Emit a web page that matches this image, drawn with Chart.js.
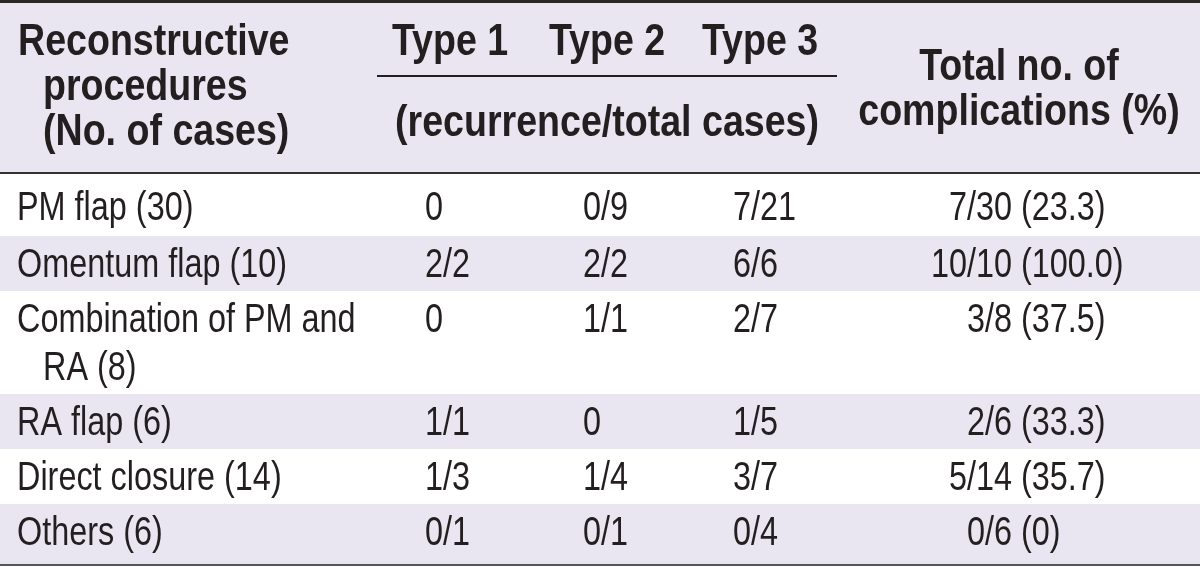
<!DOCTYPE html>
<html>
<head>
<meta charset="utf-8">
<script src="https://cdn.jsdelivr.net/npm/chart.js@4/dist/chart.umd.min.js"></script>
<style>
  html, body { margin: 0; padding: 0; background: #ffffff; }
  #wrap { width: 1200px; height: 570px; }
</style>
</head>
<body>
<div id="wrap"><canvas id="tabela" width="1200" height="570"></canvas></div>
<script>
// ========================================
// DADOS DA TABELA
// ========================================
const headProcedure = ['Reconstructive', 'procedures', '(No. of cases)'];
const headTypes = ['Type 1', 'Type 2', 'Type 3'];
const headTypesSub = '(recurrence/total cases)';
const headTotal = ['Total no. of', 'complications (%)'];

const procedures = ['PM flap (30)', 'Omentum flap (10)', 'Combination of PM and RA (8)',
                    'RA flap (6)', 'Direct closure (14)', 'Others (6)'];
const type1 = ['0', '2/2', '0', '1/1', '1/3', '0/1'];
const type2 = ['0/9', '2/2', '1/1', '0', '1/4', '0/1'];
const type3 = ['7/21', '6/6', '2/7', '1/5', '3/7', '0/4'];
const totals = ['7/30 (23.3)', '10/10 (100.0)', '3/8 (37.5)', '2/6 (33.3)', '5/14 (35.7)', '0/6 (0)'];

// ========================================
// LAYOUT (unidades da escala = pixels do quadro)
// ========================================
const INK = '#231f20';
const SHADE = '#e9e6f2';
const bodyFont = '40px "Liberation Sans", Arial, sans-serif';
const headFont = 'bold 45px "Liberation Sans", Arial, sans-serif';
const NARROW = 0.81;        // corpo: fonte estreita
const NARROW_HEAD = 0.835;  // cabecalho

const colProc = 17, procIndent = 26, procWrap = 365;
const colTypes = [425, 583, 733];
const typeCenters = [450, 607, 760];
const totalParen = 1021;
const headTop = 3, headBottom = 173;
const rowLine = 48;

// texto estreito
function narrowText(ctx, txt, x, y, align, sx) {
    ctx.save();
    ctx.translate(x, y);
    ctx.scale(sx, 1);
    ctx.textAlign = align;
    ctx.fillText(txt, 0, 0);
    ctx.restore();
}

const tablePlugin = {
    id: 'tablePlugin',
    afterDraw(chart) {
        const { ctx, scales } = chart;
        const X = v => scales.x.getPixelForValue(v);
        const Y = v => scales.y.getPixelForValue(v);
        ctx.save();
        ctx.textBaseline = 'alphabetic';

        // quebra de linha da primeira coluna
        ctx.font = bodyFont;
        const wrapped = procedures.map(txt => {
            const words = txt.split(' ');
            const lines = [];
            let cur = '';
            words.forEach(w => {
                const test = cur ? cur + ' ' + w : w;
                if (cur && ctx.measureText(test).width * NARROW > X(procWrap) - X(colProc)) {
                    lines.push(cur);
                    cur = w;
                } else {
                    cur = test;
                }
            });
            lines.push(cur);
            return lines;
        });

        // alturas das linhas
        const rows = [];
        let y = headBottom + 1;
        wrapped.forEach((lines, i) => {
            const h = 55 + (lines.length - 1) * rowLine + (i === 0 ? 7 : 0) + (i === wrapped.length - 1 ? 5 : 0);
            rows.push({ top: y, bottom: y + h, base: y + (i === 0 ? 46 : 41) });
            y += h;
        });
        const tableBottom = y;

        // fundo do cabecalho e faixas
        ctx.fillStyle = SHADE;
        ctx.fillRect(X(0), Y(headTop), X(1200) - X(0), Y(headBottom) - Y(headTop));
        rows.forEach((r, i) => {
            if (i % 2 === 1) {
                ctx.fillRect(X(0), Y(r.top), X(1200) - X(0), Y(r.bottom) - Y(r.top));
            }
        });

        // regras
        ctx.fillStyle = '#2a2627';
        ctx.fillRect(X(0), Y(0), X(1200) - X(0), 3);
        ctx.fillStyle = '#333';
        ctx.fillRect(X(0), Y(headBottom) - 1, X(1200) - X(0), 2);
        ctx.fillStyle = '#555';
        ctx.fillRect(X(0), Y(tableBottom), X(1200) - X(0), 2);
        ctx.fillStyle = INK;
        ctx.fillRect(X(377), Y(75), X(837) - X(377), 2);

        // cabecalho
        ctx.fillStyle = INK;
        ctx.font = headFont;
        headProcedure.forEach((t, i) => {
            narrowText(ctx, t, X(i === 0 ? 18 : 18 + procIndent - 1), Y(55 + i * 45), 'left', NARROW_HEAD);
        });
        headTypes.forEach((t, i) => narrowText(ctx, t, X(typeCenters[i]), Y(55), 'center', NARROW_HEAD));
        narrowText(ctx, headTypesSub, X(607), Y(136), 'center', NARROW_HEAD);
        headTotal.forEach((t, i) => narrowText(ctx, t, X(1019), Y(80 + i * 45), 'center', NARROW_HEAD));

        // corpo
        ctx.font = bodyFont;
        rows.forEach((r, i) => {
            wrapped[i].forEach((ln, k) => {
                narrowText(ctx, ln, X(k === 0 ? colProc : colProc + procIndent), Y(r.base + k * rowLine), 'left', NARROW);
            });
            [type1, type2, type3].forEach((col, c) => {
                narrowText(ctx, col[i], X(colTypes[c]), Y(r.base), 'left', NARROW);
            });
            const cut = totals[i].indexOf('(');
            narrowText(ctx, totals[i].slice(0, cut), X(totalParen), Y(r.base), 'right', NARROW);
            narrowText(ctx, totals[i].slice(cut), X(totalParen), Y(r.base), 'left', NARROW);
        });
        ctx.restore();
    }
};

document.addEventListener('DOMContentLoaded', () => {
    new Chart(document.getElementById('tabela'), {
        type: 'scatter',
        data: { datasets: [] },
        options: {
            responsive: false,
            animation: false,
            layout: { padding: 0 },
            plugins: { legend: { display: false }, tooltip: { enabled: false } },
            scales: {
                x: { type: 'linear', min: 0, max: 1200, display: false },
                y: { type: 'linear', min: 0, max: 570, reverse: true, display: false }
            }
        },
        plugins: [tablePlugin]
    });
});
</script>
</body>
</html>
